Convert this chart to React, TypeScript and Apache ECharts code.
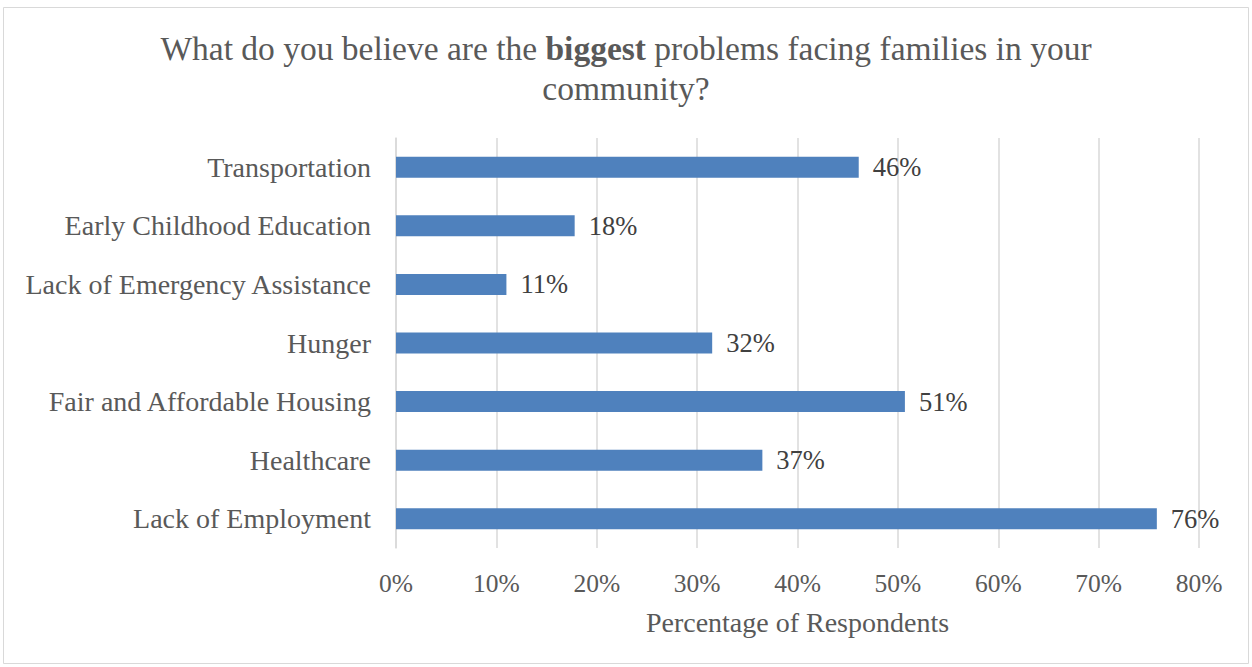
import React, { useEffect, useRef } from "react";
import * as echarts from "echarts";

const categories = [
  "Lack of Employment",
  "Healthcare",
  "Fair and Affordable Housing",
  "Hunger",
  "Lack of Emergency Assistance",
  "Early Childhood Education",
  "Transportation",
];
const values = [75.8, 36.5, 50.7, 31.5, 11.0, 17.8, 46.1];
const xTicks = [0, 10, 20, 30, 40, 50, 60, 70, 80];

const FONT = "'Liberation Serif', 'Times New Roman', serif";

export default function App() {
  const ref = useRef<HTMLDivElement>(null);
  useEffect(() => {
    if (!ref.current) return;
    const chart = echarts.init(ref.current, null, { renderer: "svg" });
    chart.setOption({
      animation: false,
      backgroundColor: "#ffffff",
      graphic: [
        {
          type: "rect",
          shape: { x: 3.5, y: 7.5, width: 1245, height: 656 },
          style: { fill: "none", stroke: "#d9d9d9", lineWidth: 1 },
          silent: true,
        },
      ],
      title: {
        text: "{a|What do you believe are the }{b|biggest}{a| problems facing families in your}\n{a|community?}",
        left: "center",
        top: 23,
        textStyle: {
          fontWeight: "normal",
          rich: {
            a: { fontFamily: FONT, fontSize: 33.5, color: "#595959", fontWeight: "normal", lineHeight: 40 },
            b: { fontFamily: FONT, fontSize: 33.5, color: "#595959", fontWeight: "bold", lineHeight: 40 },
          },
        },
      },
      grid: { left: 396, right: 53, top: 138, bottom: 119, containLabel: false },
      xAxis: {
        type: "value",
        min: 0,
        max: 80,
        interval: 10,
        name: "Percentage of Respondents",
        nameLocation: "middle",
        nameGap: 60,
        nameTextStyle: { fontFamily: FONT, fontSize: 28, color: "#595959" },
        axisLine: { show: false },
        axisTick: { show: false },
        axisLabel: {
          margin: 22,
          fontFamily: FONT,
          fontSize: 25.5,
          color: "#595959",
          formatter: (v: number) => (xTicks.includes(v) ? v + "%" : ""),
        },
        splitLine: { show: true, lineStyle: { color: "#d9d9d9", width: 1.5 } },
      },
      yAxis: {
        type: "category",
        data: categories,
        axisLine: { show: true, lineStyle: { color: "#d9d9d9", width: 1.5 } },
        axisTick: { show: false },
        axisLabel: {
          margin: 25,
          fontFamily: FONT,
          fontSize: 28,
          color: "#595959",
        },
      },
      series: [
        {
          type: "bar",
          data: values,
          barWidth: 21,
          itemStyle: { color: "#4f81bd" },
          label: {
            show: true,
            position: "right",
            distance: 14,
            fontFamily: FONT,
            fontSize: 26.5,
            color: "#404040",
            formatter: (p: any) => Math.round(p.value) + "%",
          },
        },
      ],
    });
    return () => chart.dispose();
  }, []);
  return (
    <div
      ref={ref}
      style={{ position: "fixed", left: 0, top: 0, width: 1252, height: 667 }}
    />
  );
}
